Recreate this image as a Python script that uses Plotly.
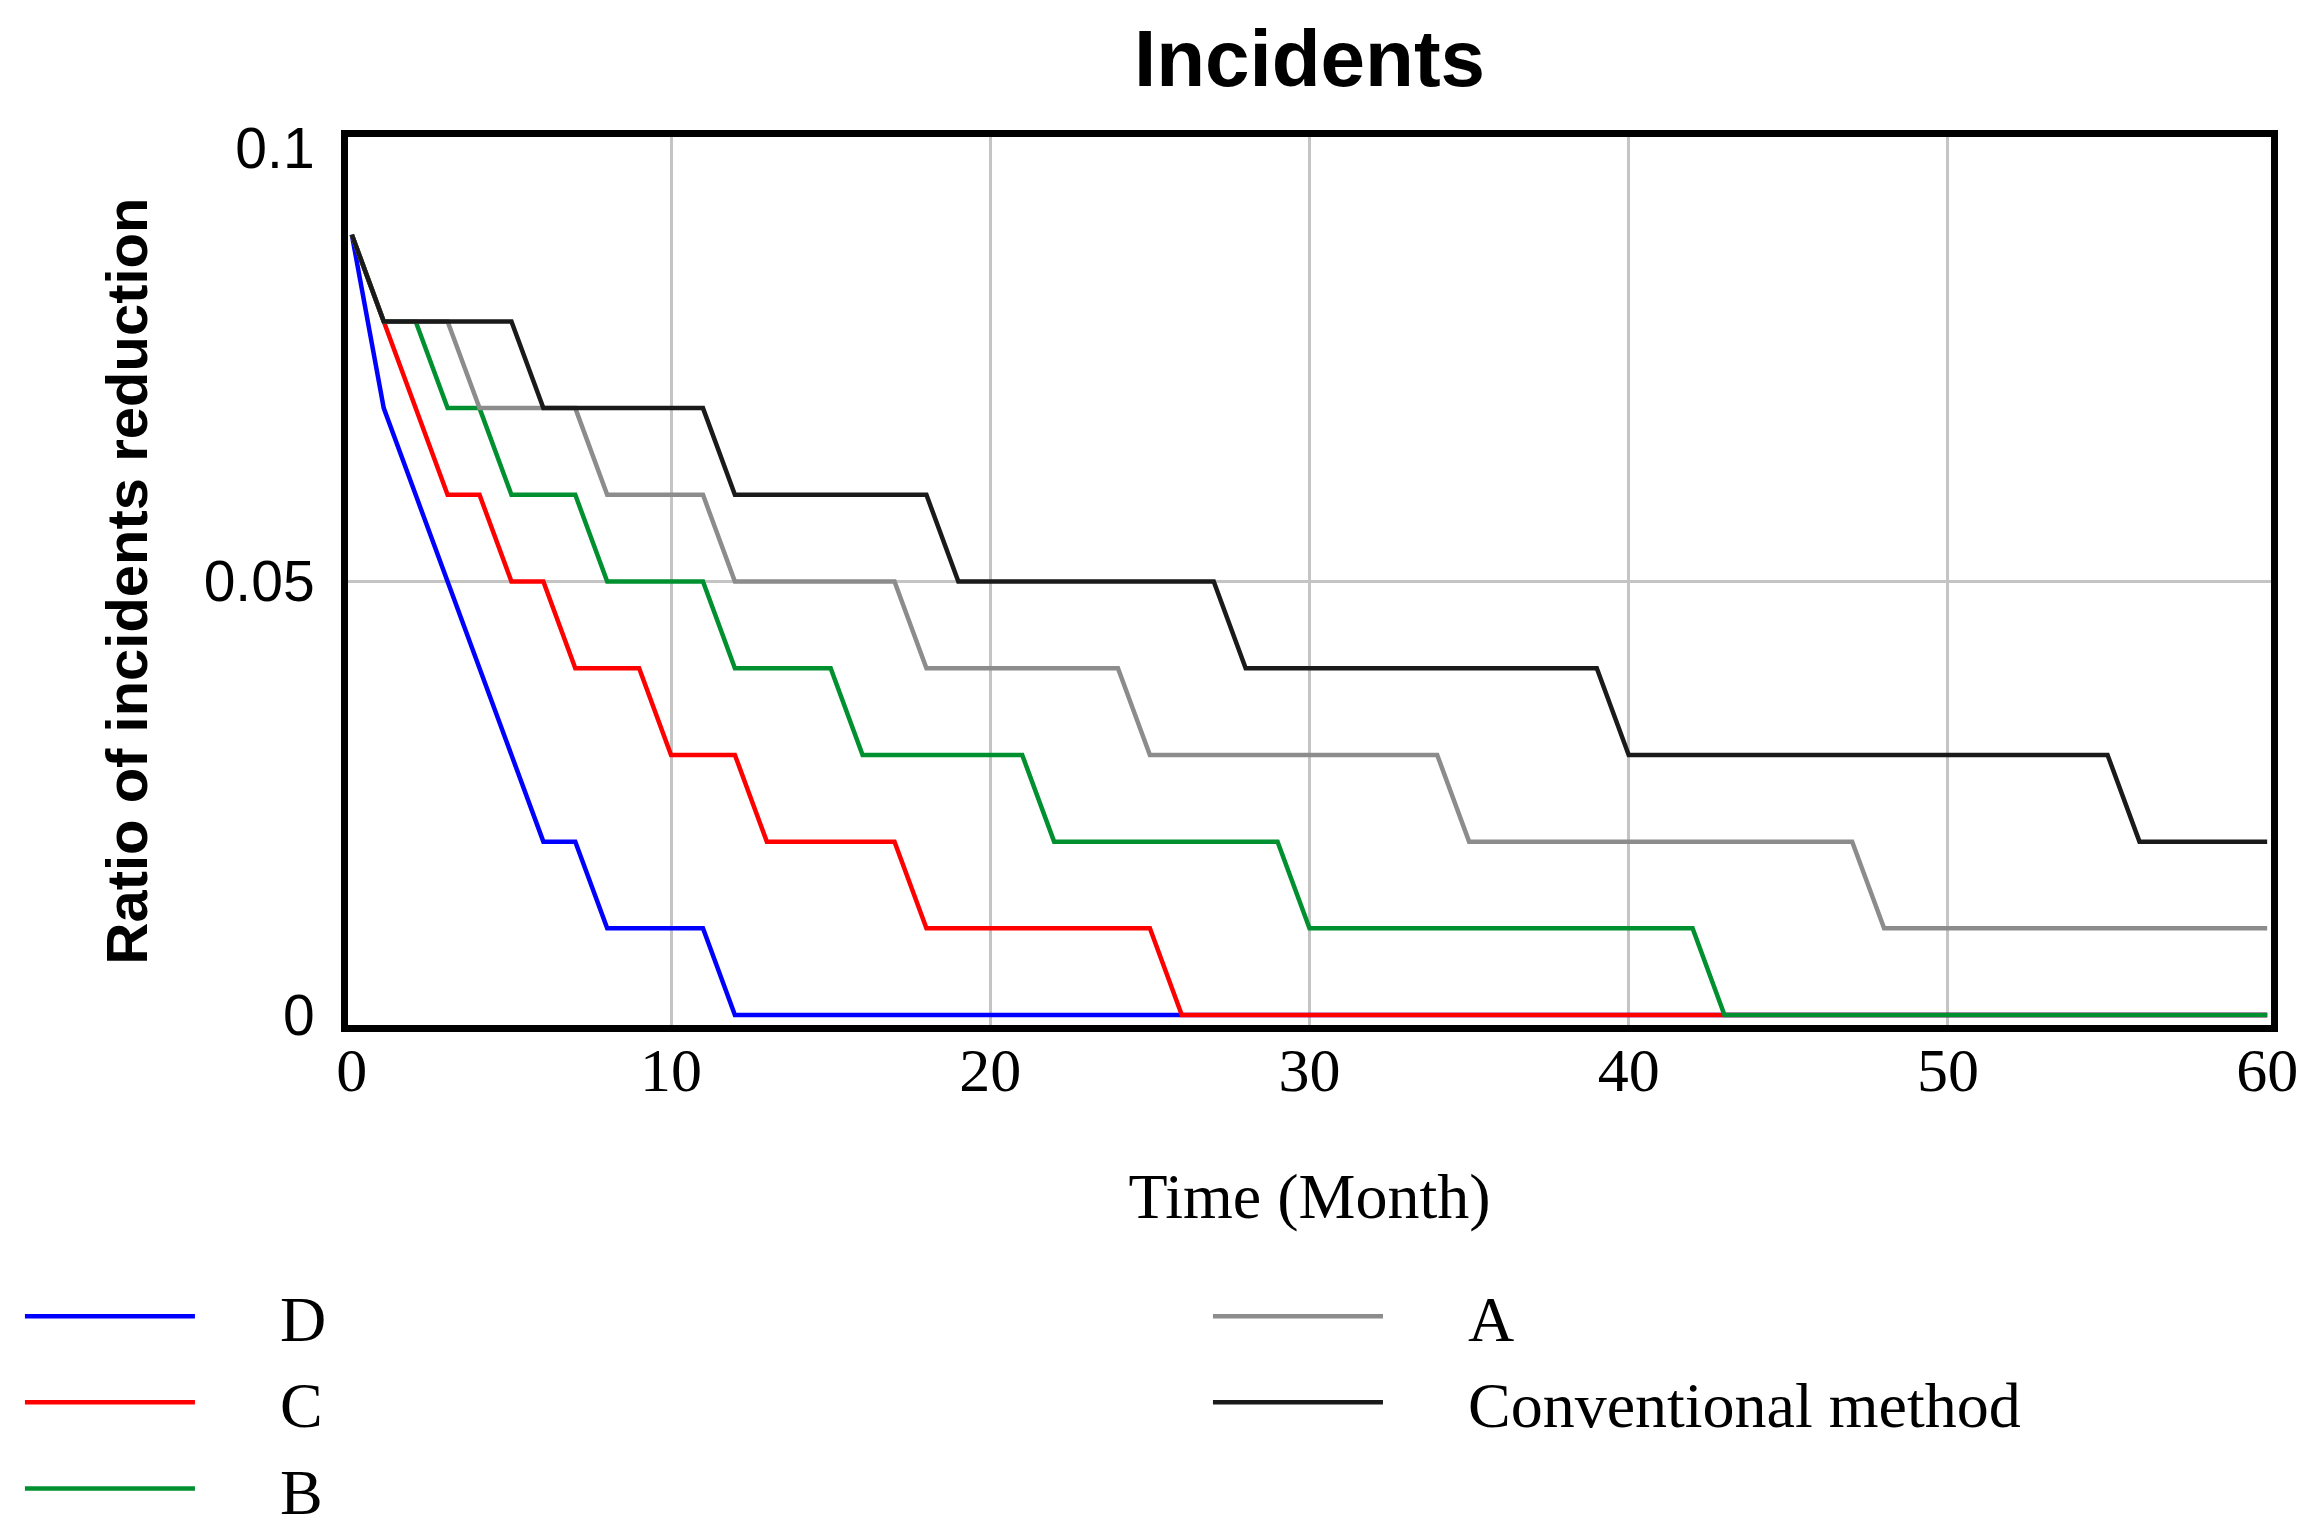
import plotly.graph_objects as go

# ---------------- data ----------------
months = [0, 1, 2, 3, 4, 5, 6, 7, 8, 9,
          10, 11, 12, 13, 14, 15, 16, 17, 18, 19,
          20, 21, 22, 23, 24, 25, 26, 27, 28, 29,
          30, 31, 32, 33, 34, 35, 36, 37, 38, 39,
          40, 41, 42, 43, 44, 45, 46, 47, 48, 49,
          50, 51, 52, 53, 54, 55, 56, 57, 58, 59,
          60]

series_d = [0.09, 0.07, 0.06, 0.05, 0.04, 0.03, 0.02, 0.02, 0.01, 0.01,
            0.01, 0.01, 0.0, 0.0, 0.0, 0.0, 0.0, 0.0, 0.0, 0.0,
            0.0, 0.0, 0.0, 0.0, 0.0, 0.0, 0.0, 0.0, 0.0, 0.0,
            0.0, 0.0, 0.0, 0.0, 0.0, 0.0, 0.0, 0.0, 0.0, 0.0,
            0.0, 0.0, 0.0, 0.0, 0.0, 0.0, 0.0, 0.0, 0.0, 0.0,
            0.0, 0.0, 0.0, 0.0, 0.0, 0.0, 0.0, 0.0, 0.0, 0.0,
            0.0]

series_c = [0.09, 0.08, 0.07, 0.06, 0.06, 0.05, 0.05, 0.04, 0.04, 0.04,
            0.03, 0.03, 0.03, 0.02, 0.02, 0.02, 0.02, 0.02, 0.01, 0.01,
            0.01, 0.01, 0.01, 0.01, 0.01, 0.01, 0.0, 0.0, 0.0, 0.0,
            0.0, 0.0, 0.0, 0.0, 0.0, 0.0, 0.0, 0.0, 0.0, 0.0,
            0.0, 0.0, 0.0, 0.0, 0.0, 0.0, 0.0, 0.0, 0.0, 0.0,
            0.0, 0.0, 0.0, 0.0, 0.0, 0.0, 0.0, 0.0, 0.0, 0.0,
            0.0]

series_b = [0.09, 0.08, 0.08, 0.07, 0.07, 0.06, 0.06, 0.06, 0.05, 0.05,
            0.05, 0.05, 0.04, 0.04, 0.04, 0.04, 0.03, 0.03, 0.03, 0.03,
            0.03, 0.03, 0.02, 0.02, 0.02, 0.02, 0.02, 0.02, 0.02, 0.02,
            0.01, 0.01, 0.01, 0.01, 0.01, 0.01, 0.01, 0.01, 0.01, 0.01,
            0.01, 0.01, 0.01, 0.0, 0.0, 0.0, 0.0, 0.0, 0.0, 0.0,
            0.0, 0.0, 0.0, 0.0, 0.0, 0.0, 0.0, 0.0, 0.0, 0.0,
            0.0]

series_a = [0.09, 0.08, 0.08, 0.08, 0.07, 0.07, 0.07, 0.07, 0.06, 0.06,
            0.06, 0.06, 0.05, 0.05, 0.05, 0.05, 0.05, 0.05, 0.04, 0.04,
            0.04, 0.04, 0.04, 0.04, 0.04, 0.03, 0.03, 0.03, 0.03, 0.03,
            0.03, 0.03, 0.03, 0.03, 0.03, 0.02, 0.02, 0.02, 0.02, 0.02,
            0.02, 0.02, 0.02, 0.02, 0.02, 0.02, 0.02, 0.02, 0.01, 0.01,
            0.01, 0.01, 0.01, 0.01, 0.01, 0.01, 0.01, 0.01, 0.01, 0.01,
            0.01]

series_conv = [0.09, 0.08, 0.08, 0.08, 0.08, 0.08, 0.07, 0.07, 0.07, 0.07,
               0.07, 0.07, 0.06, 0.06, 0.06, 0.06, 0.06, 0.06, 0.06, 0.05,
               0.05, 0.05, 0.05, 0.05, 0.05, 0.05, 0.05, 0.05, 0.04, 0.04,
               0.04, 0.04, 0.04, 0.04, 0.04, 0.04, 0.04, 0.04, 0.04, 0.04,
               0.03, 0.03, 0.03, 0.03, 0.03, 0.03, 0.03, 0.03, 0.03, 0.03,
               0.03, 0.03, 0.03, 0.03, 0.03, 0.03, 0.02, 0.02, 0.02, 0.02,
               0.02]

series_names = ["D", "C", "B", "A", "Conventional method"]
x_tick_values = [0, 10, 20, 30, 40, 50, 60]
x_tick_labels = ["0", "10", "20", "30", "40", "50", "60"]
y_tick_values = [0, 0.05, 0.1]
y_tick_labels = ["0", "0.05", "0.1"]

# ---------------- styling ----------------
all_series = [series_d, series_c, series_b, series_a, series_conv]
colors = ["#0000ff", "#ff0000", "#009030", "#8c8c8c", "#1a1a1a"]
legend_ids = ["legend", "legend", "legend", "legend2", "legend2"]
LEGEND_PAD = "\u00a0" * 5   # gap between the legend line sample and its label

SANS = "Liberation Sans, Arial, sans-serif"
SERIF = "Liberation Serif, Times New Roman, serif"

fig = go.Figure()
for name, vals, col, lid in zip(series_names, all_series, colors, legend_ids):
    fig.add_trace(go.Scatter(
        x=months, y=vals, mode="lines", name=LEGEND_PAD + name,
        line=dict(color=col, width=4.5),
        legend=lid,
    ))

legend_common = dict(
    font=dict(family=SERIF, size=64, color="black"),
    itemwidth=170,
    bgcolor="rgba(0,0,0,0)",
    tracegroupgap=0,
    xanchor="left",
    yanchor="top",
    orientation="v",
)

fig.update_layout(
    width=2319, height=1530,
    margin=dict(l=340, r=56, t=129, b=513, autoexpand=False),
    paper_bgcolor="white",
    plot_bgcolor="white",
    showlegend=True,
    title=dict(
        text="<b>Incidents</b>",
        x=0.5, xanchor="center", xref="paper",
        y=1 - 50 / 1530, yanchor="middle",
        font=dict(family=SANS, size=80, color="black"),
    ),
    legend=dict(x=-0.1706, y=-0.2737, **legend_common),
    legend2=dict(x=0.4472, y=-0.2737, **legend_common),
)

fig.update_xaxes(
    range=[-0.12, 60.12],
    tickmode="array", tickvals=x_tick_values, ticktext=x_tick_labels,
    showgrid=False,
    minor=dict(tickvals=[10, 20, 30, 40, 50], showgrid=True,
               gridcolor="#c4c4c4", gridwidth=2.5, ticks=""),
    zeroline=False,
    showline=True, mirror=True, linecolor="black", linewidth=7,
    ticks="",
    tickfont=dict(family=SERIF, size=62, color="black"),
    ticklabelstandoff=-15,
    title=dict(text="Time (Month)", font=dict(family=SERIF, size=64, color="black"),
               standoff=72),
    automargin=False,
)

fig.update_yaxes(
    range=[-0.00115, 0.10127],
    tickmode="array", tickvals=y_tick_values, ticktext=y_tick_labels,
    showgrid=False,
    minor=dict(tickvals=[0.05], showgrid=True,
               gridcolor="#c4c4c4", gridwidth=2.5, ticks=""),
    zeroline=False,
    showline=True, mirror=True, linecolor="black", linewidth=7,
    ticks="",
    tickfont=dict(family=SANS, size=57, color="black"),
    ticklabelstandoff=15,
    title=dict(text="<b>Ratio of incidents reduction</b>",
               font=dict(family=SANS, size=58, color="black"),
               standoff=40),
    automargin=False,
)

fig.write_html("out.html")
